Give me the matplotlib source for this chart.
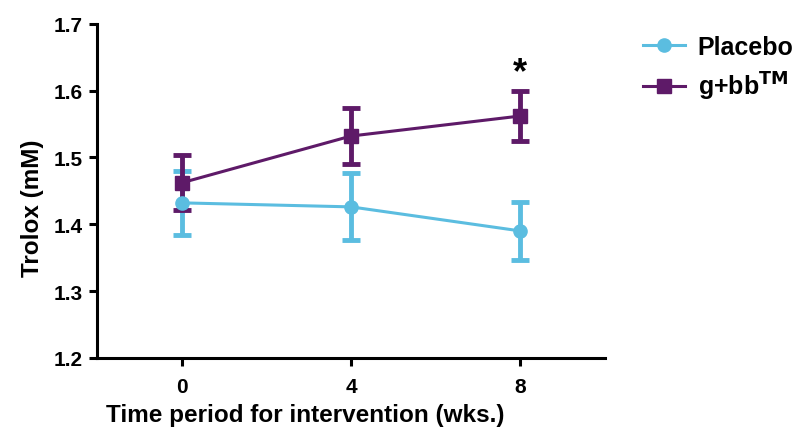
import matplotlib.pyplot as plt

plt.rcParams['font.family'] = ['Liberation Sans', 'DejaVu Sans']
plt.rcParams['font.weight'] = 'bold'

weeks = [0, 4, 8]
placebo = [1.432, 1.426, 1.390]
placebo_err = [0.048, 0.050, 0.043]
gbb = [1.462, 1.532, 1.562]
gbb_err = [0.041, 0.042, 0.037]

c_placebo = '#5bbde0'
c_gbb = '#5e1a68'

fig = plt.figure(figsize=(7.95, 4.35), dpi=100)
ax = fig.add_axes([0.122, 0.175, 0.639, 0.768])

# error bars without legend entries, lines with markers for the legend
ax.errorbar(weeks, placebo, yerr=placebo_err, color=c_placebo, fmt='none',
            elinewidth=3.5, capsize=6.5, capthick=3.5)
ax.errorbar(weeks, gbb, yerr=gbb_err, color=c_gbb, fmt='none',
            elinewidth=3.5, capsize=6.5, capthick=3.5)
ax.plot(weeks, placebo, color=c_placebo, marker='o', markersize=9.5,
        linewidth=2.2, label='Placebo')
ax.plot(weeks, gbb, color=c_gbb, marker='s', markersize=9.5,
        linewidth=2.2, label='g+bb$^{\\mathbf{TM}}$')

ax.text(8, 1.627, '*', ha='center', va='center', fontsize=26, fontweight='bold')

ax.set_xlim(-2, 10)
ax.set_ylim(1.2, 1.7)
ax.set_xticks(weeks)
ax.set_yticks([1.2, 1.3, 1.4, 1.5, 1.6, 1.7])
ax.set_yticklabels(['1.2', '1.3', '1.4', '1.5', '1.6', '1.7'])

for s in ['top', 'right']:
    ax.spines[s].set_visible(False)
for s in ['left', 'bottom']:
    ax.spines[s].set_linewidth(2.2)
ax.tick_params(width=2.2, length=6, labelsize=15, pad=4)
ax.tick_params(axis='x', pad=8)

ax.set_xlabel('Time period for intervention (wks.)', fontsize=17.5, fontweight='bold')
ax.xaxis.set_label_coords(0.41, -0.135)
ax.set_ylabel('Trolox (mM)', fontsize=17.5, fontweight='bold')
ax.yaxis.set_label_coords(-0.105, 0.45)

leg = ax.legend(loc='upper left', bbox_to_anchor=(1.03, 1.035), frameon=False,
                fontsize=18, handlelength=1.7, handletextpad=0.5, labelspacing=0.45)

fig.savefig('out.png', dpi=100)
